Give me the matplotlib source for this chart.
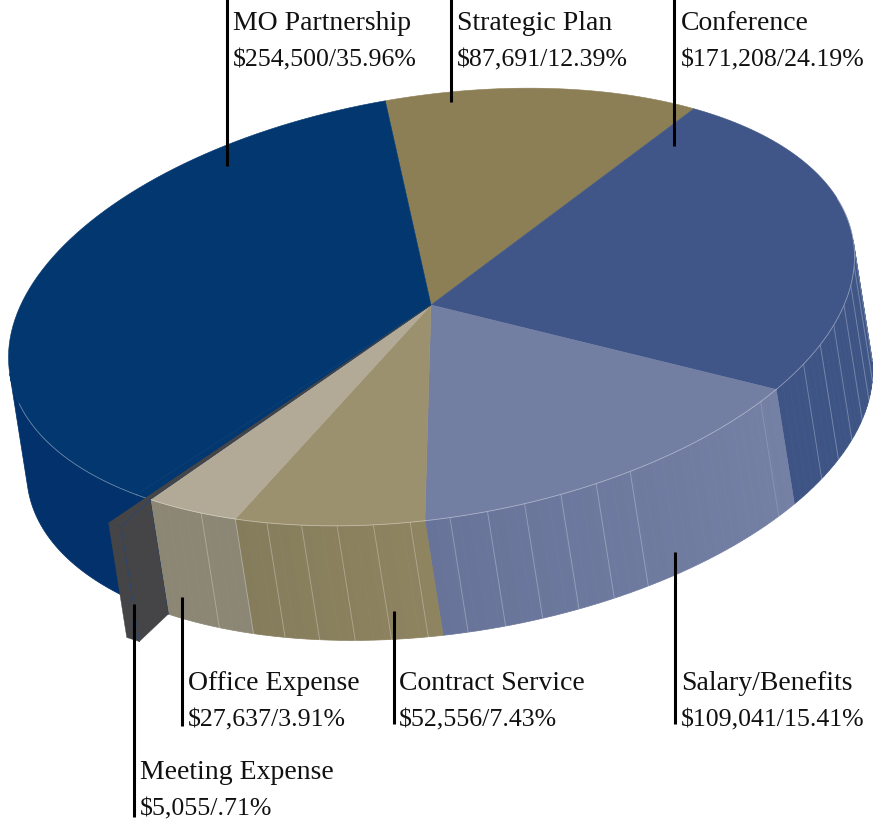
import numpy as np
import matplotlib
matplotlib.use("Agg")
import matplotlib.pyplot as plt
from matplotlib.patches import Polygon

# Slices in drawing order, clockwise from the top of the pie
names = ["Strategic Plan", "Conference", "Salary/Benefits", "Contract Service",
         "Office Expense", "Meeting Expense", "MO Partnership"]
amounts = [87691, 171208, 109041, 52556, 27637, 5055, 254500]
pct_text = ["12.39%", "24.19%", "15.41%", "7.43%", "3.91%", ".71%", "35.96%"]

top_colors = ["#8C7F55", "#415688", "#737EA3", "#9C916E", "#B2AA96", "#03376F", "#03376F"]
side_from = ["#8C7F55", "#3D5485", "#7580A5", "#8E8460", "#8C8674", "#02316B", "#02316B"]
side_to = ["#8C7F55", "#3D5485", "#677398", "#857C5C", "#8C8674", "#02316B", "#02316B"]
dark = "#454547"

# Label anchor x, top text baseline, leader x, leader y range
label_x = [457, 681, 681, 399, 188, 140, 233]
label_y = [30, 30, 690, 690, 690, 779, 30]
leader_x = [451, 674, 675, 394, 182, 134, 227]
leader_y = [(0, 103), (0, 147), (553, 725), (612, 725), (598, 727), (605, 818), (0, 167)]

# Pie geometry in pixels, the hub sits a little above the middle of the rim
hub = (431, 306)
cx, cy = 431.5, 308
rx, ry = 427, 211
tilt = np.radians(9)
depth = 116
start = -91.8
explode = 1.13

ux, uy = np.cos(tilt), -np.sin(tilt)
vx, vy = np.sin(tilt), np.cos(tilt)


def rim(t, r=1.0, drop=0.0):
    t = np.radians(t)
    x = cx + r * rx * np.cos(t) * ux + r * ry * np.sin(t) * vx + drop * vx
    y = cy + r * rx * np.cos(t) * uy + r * ry * np.sin(t) * vy + drop * vy
    return np.column_stack([x, y])


def mix(c1, c2, f):
    a = np.array(matplotlib.colors.to_rgb(c1))
    b = np.array(matplotlib.colors.to_rgb(c2))
    return a + (b - a) * f


fig = plt.figure(figsize=(8.83, 8.2), dpi=100)
ax = fig.add_axes([0, 0, 1, 1])
ax.set_xlim(0, 883)
ax.set_ylim(820, 0)
ax.axis("off")

angles = np.array(amounts) / sum(amounts) * 360
edges = start + np.concatenate([[0], np.cumsum(angles)])

# Side wall, only the part facing us (0 to 180 degrees)
for i in range(len(amounts)):
    t0, t1 = max(edges[i], 0), min(edges[i + 1], 180)
    if t1 <= t0:
        continue
    if names[i] == "MO Partnership":
        n = 1
    else:
        n = max(1, int((t1 - t0) / 1.5))
    cuts = np.linspace(t0, t1, n + 1)
    for k in range(n):
        col = mix(side_from[i], side_to[i], (k + 0.5) / n)
        ts = np.linspace(cuts[k], cuts[k + 1], 40 if n == 1 else 4)
        pts = np.vstack([rim(ts), rim(ts[::-1], drop=depth)])
        ax.add_patch(Polygon(pts, closed=True, fc=col, ec=col, lw=0.5, zorder=2))

# Pale seams on the wall
seams = {
    "Conference": np.arange(edges[2] - 7, 1, -5.2),
    "Salary/Benefits": np.concatenate([np.arange(edges[3] - 3.4, 62, -5.1), [edges[2] + 3.5]]),
    "Contract Service": np.arange(edges[3] + 2, edges[4], 5.0),
    "Office Expense": np.array([edges[4], edges[5] - 8.7]),
}
for name in seams:
    for t in seams[name]:
        alpha = 0.15 if name == "Salary/Benefits" and t < 50 else 0.28
        ax.plot(*np.vstack([rim(t), rim(t, drop=depth)]).T, color="white", alpha=alpha, lw=0.7, zorder=3)

# Top faces
for i in range(len(amounts)):
    ts = np.linspace(edges[i], edges[i + 1], 80)
    pts = np.vstack([[hub], rim(ts)])
    ax.add_patch(Polygon(pts, closed=True, fc=top_colors[i], ec=top_colors[i], lw=0.4, zorder=4))
    # hairline only where the wall shows under the top
    front = ts[(ts > -12) & (ts < 172)]
    if len(front) > 1:
        ax.plot(*rim(front).T, color="white", alpha=0.4, lw=0.6, zorder=5)

# Meeting Expense slice sticks out of the pie
m = names.index("Meeting Expense")
t0 = edges[m]
inner = rim(t0, 1.0)[0]
near = rim(t0 - 1.2, explode)[0]
far = rim(t0 + 0.8, explode)[0]
off = rim(0, 0, depth)[0] - np.array([cx, cy])
ax.add_patch(Polygon([far, near, near + off, far + off], closed=True, fc=dark, ec=dark, lw=0.3, zorder=6))
ax.add_patch(Polygon([inner, near, near + off, inner + off], closed=True, fc=dark, ec=dark, lw=0.3, zorder=6))
ax.add_patch(Polygon([hub, far, near, inner], closed=True, fc=dark, ec=dark, lw=0.3, zorder=6))
ax.plot([inner[0], near[0], near[0] + off[0]], [inner[1], near[1], near[1] + off[1]],
        color="#2C4672", lw=0.6, zorder=7)

# Labels and leader lines
for i in range(len(names)):
    ax.plot([leader_x[i], leader_x[i]], leader_y[i], color="black", lw=2.2,
            solid_capstyle="butt", zorder=8)
    ax.text(label_x[i], label_y[i], names[i], family="Liberation Serif", fontsize=20,
            color="#111111", va="baseline", ha="left", zorder=9)
    ax.text(label_x[i], label_y[i] + 36, "${:,}/{}".format(amounts[i], pct_text[i]),
            family="Liberation Serif", fontsize=18.6, color="#111111",
            va="baseline", ha="left", zorder=9)

fig.savefig("out.png", dpi=100, facecolor="white")
